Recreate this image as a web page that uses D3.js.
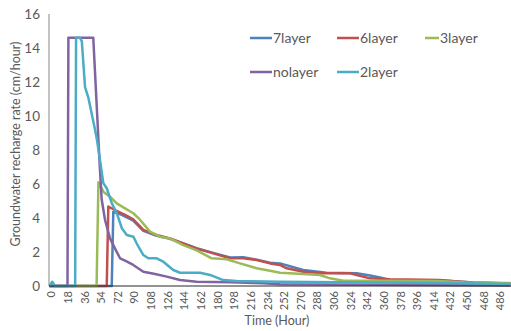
<!DOCTYPE html>
<html>
<head>
<meta charset="utf-8">
<script src="https://cdn.jsdelivr.net/npm/d3@7"></script>
<style>
  body { margin: 0; background: #fff; }
  text { font-family: Lato, "Open Sans", sans-serif; fill: #595959; }
</style>
</head>
<body>
<div id="chart"></div>
<script>
// series data: time (hour) and recharge rate (cm/hour)
var layer7T = [0, 67.4, 69.1, 78.2, 90.7, 101.6, 116, 130.4, 144.8, 159.3, 177.3, 195.4, 209.8, 224.3, 238.7, 249.5, 274.7, 299.8, 332.5, 346.9, 357.7, 368.5, 430, 458.7, 499];
var layer7V = [0, 0, 4.37, 4.18, 3.84, 3.25, 2.95, 2.78, 2.5, 2.22, 1.95, 1.68, 1.69, 1.55, 1.37, 1.33, 0.94, 0.78, 0.75, 0.62, 0.5, 0.36, 0.31, 0.2, 0.15];

var layer6T = [0, 62, 63.7, 70.9, 81.8, 90.7, 101.6, 116, 130.4, 144.8, 159.3, 177.3, 195.4, 209.8, 224.3, 238.7, 249.5, 256.7, 274.7, 296.4, 325.3, 332.5, 346.9, 368.5, 422.6, 444.3, 458.4, 499];
var layer6V = [0, 0, 4.67, 4.47, 4.18, 3.92, 3.3, 3.0, 2.8, 2.5, 2.2, 1.92, 1.63, 1.63, 1.53, 1.33, 1.24, 1.04, 0.84, 0.75, 0.75, 0.65, 0.45, 0.39, 0.35, 0.25, 0.2, 0.15];

var layer3T = [0, 51, 53, 58.3, 65.5, 72.8, 81.8, 90.7, 98, 108.8, 119.6, 130.4, 144.8, 159.3, 175.6, 191.8, 206.2, 224.3, 238.7, 249.5, 260.3, 292.8, 303.6, 318, 368.5, 420, 450, 499];
var layer3V = [0, 0, 6.1, 5.55, 5.25, 4.86, 4.57, 4.28, 3.9, 3.2, 2.9, 2.8, 2.4, 2.1, 1.63, 1.57, 1.33, 1.04, 0.9, 0.78, 0.75, 0.65, 0.45, 0.31, 0.31, 0.3, 0.2, 0.18];

var nolayerT = [0, 19.5, 20.5, 47.4, 54.7, 56.5, 60.1, 65.5, 71, 76.4, 81.8, 90.7, 101.6, 114.3, 126.9, 141.3, 159.3, 195.4, 231, 249.5, 350, 499];
var nolayerV = [0, 0, 14.6, 14.6, 6.8, 5.1, 3.9, 2.8, 2.2, 1.63, 1.49, 1.24, 0.84, 0.7, 0.55, 0.35, 0.25, 0.22, 0.16, 0.1, 0.07, 0.03];

var layer2T = [0, 3, 6, 27.8, 28.8, 33, 35, 38.5, 42, 49.3, 51.4, 54.7, 58.3, 62, 67.5, 72.9, 78.3, 83.7, 90.9, 94.4, 101.6, 107, 116, 123.2, 134, 141.3, 163, 173.8, 188, 202.6, 249.5, 350, 420, 499];
var layer2V = [0, 0.25, 0, 0, 14.6, 14.6, 14.4, 11.7, 11.1, 9.2, 8.6, 7.4, 6.05, 5.75, 4.86, 4.28, 3.4, 3.0, 2.9, 2.5, 1.82, 1.63, 1.63, 1.43, 0.94, 0.78, 0.78, 0.65, 0.35, 0.29, 0.25, 0.2, 0.17, 0.12];

var seriesNames = ["7layer", "6layer", "3layer", "nolayer", "2layer"];
var seriesColors = ["#4F81BD", "#C0504D", "#9BBB59", "#8064A2", "#4BACC6"];
var seriesT = [layer7T, layer6T, layer3T, nolayerT, layer2T];
var seriesV = [layer7V, layer6V, layer3V, nolayerV, layer2V];

var xTicks = d3.range(0, 487, 18);
var yTicks = [0, 2, 4, 6, 8, 10, 12, 14, 16];

var W = 511, H = 331;

var svg = d3.select("#chart").append("svg")
    .attr("width", W)
    .attr("height", H);

var x = d3.scaleLinear().domain([-0.5, 499.5]).range([49, 511]);
var y = d3.scaleLinear().domain([0, 16]).range([286, 14]);

// y axis line
svg.append("line")
    .attr("x1", 49).attr("x2", 49)
    .attr("y1", y(16)).attr("y2", y(0))
    .attr("stroke", "#868686").attr("stroke-width", 1);

// y tick labels
svg.append("g").selectAll("text")
    .data(yTicks)
    .enter().append("text")
    .attr("x", 40)
    .attr("y", function(d) { return y(d); })
    .attr("dy", "0.35em")
    .attr("text-anchor", "end")
    .style("font-size", "13.5px")
    .text(function(d) { return d; });

// x tick labels, rotated
svg.append("g").selectAll("text")
    .data(xTicks)
    .enter().append("text")
    .attr("transform", function(d) { return "translate(" + (x(d) + 2) + ",291) rotate(-90)"; })
    .attr("dy", "0.35em")
    .attr("text-anchor", "end")
    .style("font-size", "11px")
    .text(function(d) { return d; });

// lines
var line = d3.line()
    .x(function(d) { return x(d[0]); })
    .y(function(d) { return y(d[1]); });

seriesNames.forEach(function(name, i) {
  var pts = seriesT[i].map(function(t, j) { return [t, seriesV[i][j]]; });
  svg.append("path")
      .datum(pts)
      .attr("fill", "none")
      .attr("stroke", seriesColors[i])
      .attr("stroke-width", 2.5)
      .attr("stroke-linejoin", "round")
      .attr("d", line);
});

// x axis line (drawn after the series)
svg.append("line")
    .attr("x1", 49).attr("x2", 511)
    .attr("y1", y(0)).attr("y2", y(0))
    .attr("stroke", "#262626").attr("stroke-width", 1);

// axis titles
svg.append("text")
    .attr("transform", "translate(16,144) rotate(-90)")
    .attr("dy", "0.35em")
    .attr("text-anchor", "middle")
    .style("font-size", "12.5px")
    .text("Groundwater recharge rate (cm/hour)");

svg.append("text")
    .attr("x", 277)
    .attr("y", 325)
    .attr("text-anchor", "middle")
    .style("font-size", "12.5px")
    .text("Time (Hour)");

// legend
var legLineX = [250, 337, 425];
var legTextX = [273, 360, 440];
var legRowY = [38, 72];

var legend = svg.append("g").selectAll("g")
    .data(seriesNames)
    .enter().append("g");

legend.append("line")
    .attr("x1", function(d, i) { return legLineX[i % 3]; })
    .attr("x2", function(d, i) { return legLineX[i % 3] + (i % 3 == 2 ? 14 : 22); })
    .attr("y1", function(d, i) { return legRowY[Math.floor(i / 3)]; })
    .attr("y2", function(d, i) { return legRowY[Math.floor(i / 3)]; })
    .attr("stroke", function(d, i) { return seriesColors[i]; })
    .attr("stroke-width", 2.5);

legend.append("text")
    .attr("x", function(d, i) { return legTextX[i % 3]; })
    .attr("y", function(d, i) { return legRowY[Math.floor(i / 3)]; })
    .attr("dy", "0.35em")
    .style("font-size", "14px")
    .text(function(d) { return d; });
</script>
</body>
</html>
